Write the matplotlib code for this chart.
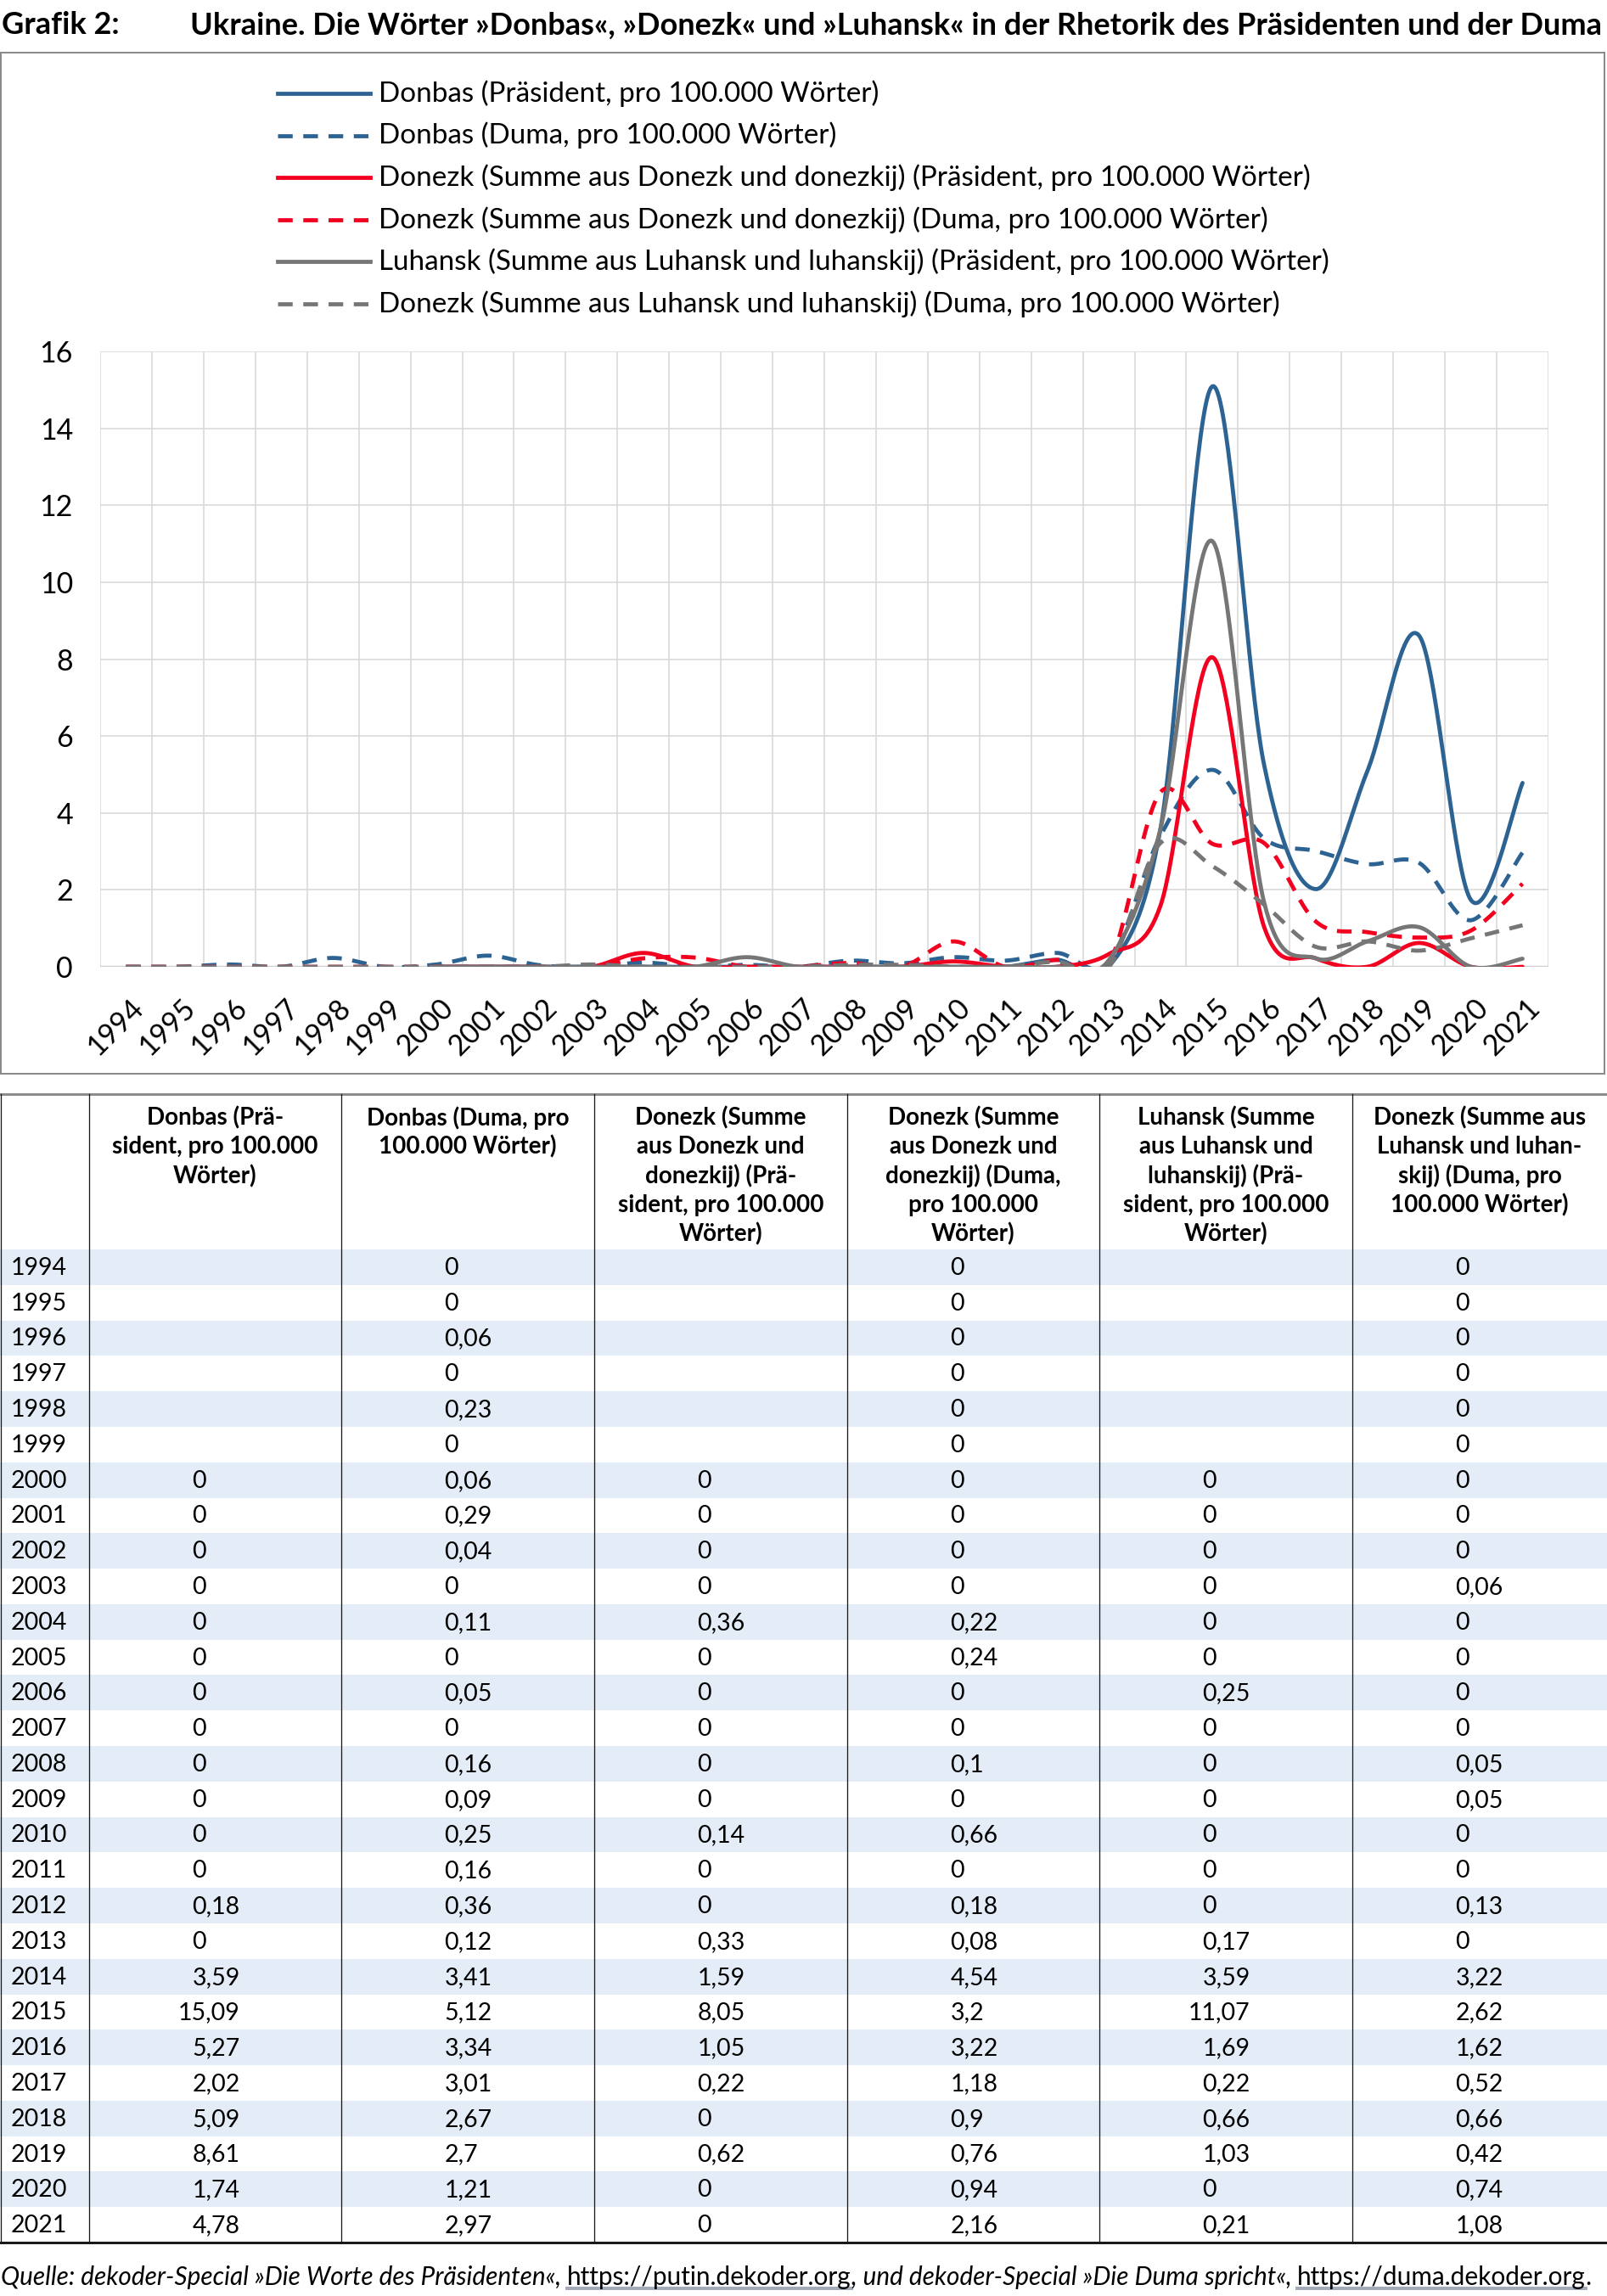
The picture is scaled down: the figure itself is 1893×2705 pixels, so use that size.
import matplotlib
matplotlib.use("Agg")
import matplotlib.pyplot as plt
import numpy as np
from matplotlib.font_manager import FontProperties
from matplotlib.lines import Line2D
from matplotlib.patches import Rectangle
import matplotlib.transforms as mtransforms

# ---------------- data ----------------
years = list(range(1994, 2022))
N = None
donbas_praes = [N]*6 + [0, 0, 0, 0, 0, 0, 0, 0, 0, 0, 0, 0, 0.18, 0, 3.59, 15.09, 5.27, 2.02, 5.09, 8.61, 1.74, 4.78]
donbas_duma = [0, 0, 0.06, 0, 0.23, 0, 0.06, 0.29, 0.04, 0, 0.11, 0, 0.05, 0, 0.16, 0.09, 0.25, 0.16, 0.36, 0.12,
               3.41, 5.12, 3.34, 3.01, 2.67, 2.7, 1.21, 2.97]
donezk_praes = [N]*6 + [0, 0, 0, 0, 0.36, 0, 0, 0, 0, 0, 0.14, 0, 0, 0.33, 1.59, 8.05, 1.05, 0.22, 0, 0.62, 0, 0]
donezk_duma = [0, 0, 0, 0, 0, 0, 0, 0, 0, 0, 0.22, 0.24, 0, 0, 0.1, 0, 0.66, 0, 0.18, 0.08,
               4.54, 3.2, 3.22, 1.18, 0.9, 0.76, 0.94, 2.16]
luhansk_praes = [N]*6 + [0, 0, 0, 0, 0, 0, 0.25, 0, 0, 0, 0, 0, 0, 0.17, 3.59, 11.07, 1.69, 0.22, 0.66, 1.03, 0, 0.21]
luhansk_duma = [0, 0, 0, 0, 0, 0, 0, 0, 0, 0.06, 0, 0, 0, 0, 0.05, 0.05, 0, 0, 0.13, 0,
                3.22, 2.62, 1.62, 0.52, 0.66, 0.42, 0.74, 1.08]

series_values = [donbas_praes, donbas_duma, donezk_praes, donezk_duma, luhansk_praes, luhansk_duma]
legend_labels = [
    "Donbas (Präsident, pro 100.000 Wörter)",
    "Donbas (Duma, pro 100.000 Wörter)",
    "Donezk (Summe aus Donezk und donezkij) (Präsident, pro 100.000 Wörter)",
    "Donezk (Summe aus Donezk und donezkij) (Duma, pro 100.000 Wörter)",
    "Luhansk (Summe aus Luhansk und luhanskij) (Präsident, pro 100.000 Wörter)",
    "Donezk (Summe aus Luhansk und luhanskij) (Duma, pro 100.000 Wörter)",
]
table_headers = [
    "Donbas (Prä-\nsident, pro 100.000\nWörter)",
    "Donbas (Duma, pro\n100.000 Wörter)",
    "Donezk (Summe\naus Donezk und\ndonezkij) (Prä-\nsident, pro 100.000\nWörter)",
    "Donezk (Summe\naus Donezk und\ndonezkij) (Duma,\npro 100.000\nWörter)",
    "Luhansk (Summe\naus Luhansk und\nluhanskij) (Prä-\nsident, pro 100.000\nWörter)",
    "Donezk (Summe aus\nLuhansk und luhan-\nskij) (Duma, pro\n100.000 Wörter)",
]
y_ticks = [0, 2, 4, 6, 8, 10, 12, 14, 16]
title_prefix = "Grafik 2:"
title_text = "Ukraine. Die Wörter »Donbas«, »Donezk« und »Luhansk« in der Rhetorik des Präsidenten und der Duma"
footer_parts = [
    ("Quelle: dekoder-Special »Die Worte des Präsidenten«, ", "italic", False),
    ("https://putin.dekoder.org", "normal", True),
    (", und dekoder-Special »Die Duma spricht«, ", "italic", False),
    ("https://duma.dekoder.org", "normal", True),
    (".", "italic", False),
]

# ---------------- style ----------------
BLUE = "#2d6392"
RED = "#f2001f"
GRAY = "#767676"
colors = [BLUE, BLUE, RED, RED, GRAY, GRAY]
dashed = [False, True, False, True, False, True]
FAM = ["Lato", "DejaVu Sans"]
plt.rcParams["font.family"] = FAM

W, H = 1893, 2705
PX = 0.72  # points per pixel at dpi 100


def fx(x):
    return x / W


def fy(y):
    return 1 - y / H


fig = plt.figure(figsize=(W / 100, H / 100), dpi=100)
fig.patch.set_facecolor("white")
renderer = fig.canvas.get_renderer()


def tw(s, size, weight="normal", style="normal"):
    fp = FontProperties(family=FAM, size=size, weight=weight, style=style)
    w1, _, _ = renderer.get_text_width_height_descent(s + "|", fp, ismath=False)
    w2, _, _ = renderer.get_text_width_height_descent("|", fp, ismath=False)
    return w1 - w2


def fit(s, target, weight="normal", style="normal"):
    return 20 * target / tw(s, 20, weight, style)


# ---------------- title ----------------
title_size = fit(title_text, 1664, "bold")
fig.text(fx(2), fy(30), title_prefix, fontsize=title_size, fontweight="bold", va="center", ha="left")
fig.text(fx(224), fy(30), title_text, fontsize=title_size, fontweight="bold", va="center", ha="left")

# chart frame
fig.add_artist(Rectangle((fx(1), fy(1265)), (1890 - 1) / W, (1265 - 62) / H, transform=fig.transFigure,
                         fill=False, edgecolor="#8a8a8a", lw=2 * PX))

# ---------------- chart ----------------
leg_size = fit(legend_labels[0], 590)
tick_size = leg_size * 1.02

ax = fig.add_axes([fx(118), fy(1139), (1824 - 118) / W, (1139 - 414) / H])
ax.set_xlim(-0.5, len(years) - 0.5)
ax.set_ylim(0, 16)
for s in ax.spines.values():
    s.set_visible(False)
ax.set_yticks(y_ticks)
ax.set_xticks(range(len(years)))
ax.set_xticklabels([])
ax.set_xticks(np.arange(-0.5, len(years), 1), minor=True)
ax.grid(True, axis="y", which="major", color="#d9d9d9", lw=1.6 * PX)
ax.grid(True, axis="x", which="minor", color="#d9d9d9", lw=1.6 * PX)
ax.tick_params(axis="both", which="both", length=0)
ax.tick_params(axis="y", labelsize=tick_size, pad=32 * PX)
ax.axhline(0, color="#d0d0d0", lw=2.5 * PX, zorder=1)
ax.set_axisbelow(True)

for i, yr in enumerate(years):
    tr = mtransforms.offset_copy(ax.transData, fig=fig, x=15, y=-43, units="dots")
    ax.text(i, 0, str(yr), rotation=45, ha="right", va="center", rotation_mode="anchor",
            transform=tr, fontsize=tick_size, clip_on=False)


def excel_smooth(xs, ys, steps=40):
    pts = np.column_stack([xs, ys]).astype(float)
    n = len(pts)
    out = [pts[0]]
    t = np.linspace(0, 1, steps)[1:, None]
    for i in range(n - 1):
        p0 = pts[i - 1] if i > 0 else pts[i]
        p1 = pts[i]
        p2 = pts[i + 1]
        p3 = pts[i + 2] if i + 2 < n else pts[i + 1]
        c1 = p1 + (p2 - p0) / 6.0
        c2 = p2 - (p3 - p1) / 6.0
        seg = ((1 - t) ** 3) * p1 + 3 * ((1 - t) ** 2) * t * c1 + 3 * (1 - t) * t ** 2 * c2 + t ** 3 * p2
        out.extend(seg)
    out = np.array(out)
    return out[:, 0], out[:, 1]


LW = 4.8 * PX
DASH = (3.6, 2.6)
for k, vals in enumerate(series_values):
    idx = [i for i, v in enumerate(vals) if v is not None]
    xs = np.array(idx, dtype=float)
    ys = np.array([vals[i] for i in idx], dtype=float)
    sx, sy = excel_smooth(xs, ys)
    line, = ax.plot(sx, sy, color=colors[k], lw=LW, zorder=3 + k, solid_capstyle="round",
                    dash_capstyle="butt", solid_joinstyle="round")
    if dashed[k]:
        line.set_dashes(DASH)

# legend
for k, lab in enumerate(legend_labels):
    yy = 110 + k * 49.6
    ln = Line2D([fx(327), fx(436)], [fy(yy), fy(yy)], transform=fig.transFigure, color=colors[k], lw=LW)
    if dashed[k]:
        ln.set_dashes(DASH)
    fig.add_artist(ln)
    fig.text(fx(446), fy(yy), lab, fontsize=leg_size, va="center", ha="left")

# ---------------- table ----------------
col_edges = [0, 105, 402, 700, 998, 1295, 1593, 1893]
table_top = 1289
body_top = 1472
body_bottom = 2642
nrows = len(years)
rh = (body_bottom - body_top) / nrows
SHADE = "#e4edf7"
val_size = 20.5
head_size = 20

for r in range(nrows):
    ytop = body_top + r * rh
    if r % 2 == 0:
        fig.add_artist(Rectangle((fx(0), fy(ytop + rh)), 1, rh / H, transform=fig.transFigure,
                                 facecolor=SHADE, edgecolor="none", zorder=0))
    yc = ytop + rh / 2 + 1
    fig.text(fx(13), fy(yc), str(years[r]), fontsize=val_size, va="center", ha="left")
    for j, vals in enumerate(series_values):
        v = vals[r]
        if v is None:
            continue
        s = f"{v:g}".replace(".", ",")
        intpart = s.split(",")[0]
        dec_x = col_edges[j + 1] + 138
        x_left = dec_x - tw(intpart, val_size)
        fig.text(fx(x_left), fy(yc), s, fontsize=val_size, va="center", ha="left")

for j, head in enumerate(table_headers):
    xc = (col_edges[j + 1] + col_edges[j + 2]) / 2
    for li, line_txt in enumerate(head.split("\n")):
        fig.text(fx(xc), fy(1317 + li * 34.2), line_txt, fontsize=head_size, fontweight="bold",
                 va="center", ha="center")

# table rules
fig.add_artist(Line2D([0, 1], [fy(table_top), fy(table_top)], transform=fig.transFigure,
                      color="#8c8c8c", lw=3 * PX, zorder=5))
fig.add_artist(Line2D([0, 1], [fy(body_bottom), fy(body_bottom)], transform=fig.transFigure,
                      color="#1a1a1a", lw=3 * PX, zorder=5))
for xe in [1] + col_edges[1:-1]:
    fig.add_artist(Line2D([fx(xe), fx(xe)], [fy(table_top), fy(body_bottom)], transform=fig.transFigure,
                          color="#1a1a1a", lw=1.3 * PX, zorder=5))

# ---------------- footer ----------------
base = 20
total = sum(tw(t, base, style=st) for t, st, _ in footer_parts)
foot_size = base * 1876 / total
x = 1
for t, st, ul in footer_parts:
    w = tw(t, foot_size, style=st)
    fig.text(fx(x), fy(2683), t, fontsize=foot_size, style=st, va="center", ha="left")
    if ul:
        fig.add_artist(Line2D([fx(x), fx(x + w)], [fy(2696), fy(2696)], transform=fig.transFigure,
                              color="#a3abba", lw=4 * PX))
    x += w

fig.savefig("out.png", dpi=100, facecolor="white")
